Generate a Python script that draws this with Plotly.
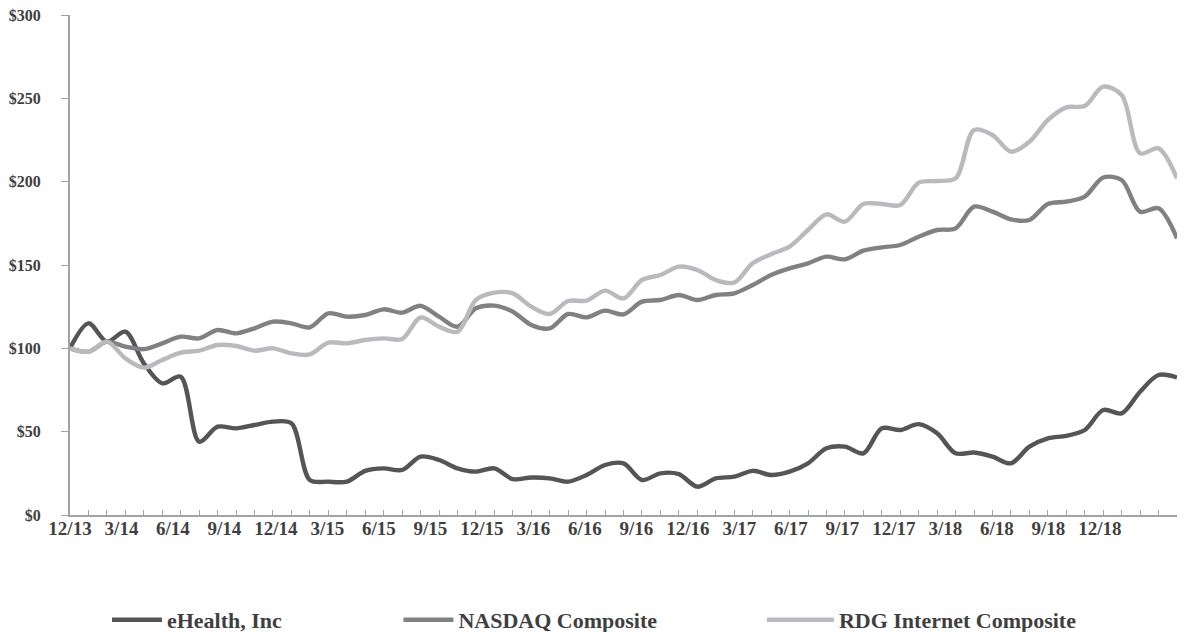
import plotly.graph_objects as go

# Monthly categories 12/13 .. 12/18
months = ["12/13"] + [f"{m}/{y}" for y in range(14, 19) for m in range(1, 13)]

quarter_labels = ["12/13", "3/14", "6/14", "9/14", "12/14", "3/15", "6/15", "9/15",
                  "12/15", "3/16", "6/16", "9/16", "12/16", "3/17", "6/17", "9/17",
                  "12/17", "3/18", "6/18", "9/18", "12/18"]

y_ticks = [0, 50, 100, 150, 200, 250, 300]
y_tick_labels = ["$0", "$50", "$100", "$150", "$200", "$250", "$300"]

ehealth = [100, 115, 104, 110, 91, 79, 83, 44, 53, 52, 54, 56, 55, 21, 20, 20,
           26.5, 28, 27, 35, 33, 28, 26, 28, 21.5, 22.5, 22, 20, 24, 30, 31, 21,
           25, 24.5, 17, 22, 23, 26.5, 24, 26, 31, 40, 41, 37, 52, 51, 54.5, 49,
           37, 37.5, 35, 31, 41, 46, 47.5, 51, 63, 61, 74, 84, 82.5]

nasdaq = [100, 98, 104, 101, 99.5, 103, 107, 106, 111, 109, 112, 116, 115, 112.6,
          121, 119, 120, 123.4, 121.4, 125.5, 119, 113, 124, 125.6, 122, 114, 112,
          120.6, 118.6, 122.6, 120.4, 128, 129, 132, 129, 132, 133, 138, 144, 148,
          151, 155, 153.4, 158.6, 160.6, 162, 167, 171, 172, 185, 182, 177.4, 177,
          186.6, 188, 191, 202.5, 201, 182, 184, 166]

rdg = [100, 98, 104, 94, 88.4, 93, 97.4, 98.6, 102, 101.4, 98.6, 100, 97, 96.4,
       103.4, 103, 105, 106, 105.6, 118.5, 113, 110, 129, 133.4, 133, 125, 120.6,
       128.4, 128.6, 134.6, 130, 141, 144, 149, 147, 141, 139.4, 151, 156.5, 161,
       171, 180.4, 176, 186.6, 186.6, 186, 199.4, 200.4, 202, 231, 228, 218, 224,
       237, 244.6, 245.4, 257, 252, 217, 220, 202]

series_names = ["eHealth, Inc", "NASDAQ Composite", "RDG Internet Composite"]
series_vals = [ehealth, nasdaq, rdg]
colors = ["#555557", "#818184", "#b9babd"]
legend_ids = ["legend", "legend2", "legend3"]

FONT = "Liberation Serif"
TXT = "#3f3f3f"
AX = "#a3a3a6"

fig = go.Figure()
for name, vals, c, lg in zip(series_names, series_vals, colors, legend_ids):
    fig.add_trace(go.Scatter(
        x=months, y=vals, name=name, mode="lines",
        line=dict(color=c, width=4.4, shape="spline", smoothing=0.9),
        legend=lg, hoverinfo="skip",
    ))

# invisible trace that carries the quarterly label axis
fig.add_trace(go.Scatter(x=list(range(len(quarter_labels))), y=[None] * len(quarter_labels),
                         xaxis="x2", yaxis="y", showlegend=False, hoverinfo="skip",
                         mode="lines"))

legend_common = dict(orientation="h", yanchor="middle", xanchor="left",
                     font=dict(family=FONT, size=22, color=TXT, weight="bold"),
                     bgcolor="rgba(0,0,0,0)", borderwidth=0)

fig.update_layout(
    width=1181, height=624,
    margin=dict(l=62, r=12, t=7, b=117, autoexpand=False),
    paper_bgcolor="white", plot_bgcolor="white",
    font=dict(family=FONT, color=TXT, weight="bold"),
    xaxis=dict(type="category", range=[0, len(months) - 1], showticklabels=False,
               ticks="inside", ticklen=5, tickcolor=AX, tickwidth=1,
               showline=True, linecolor=AX, linewidth=2, showgrid=False,
               zeroline=False, fixedrange=True),
    xaxis2=dict(overlaying="x", anchor="y", side="bottom",
                range=[0, 21.5], tickmode="array",
                tickvals=list(range(len(quarter_labels))), ticktext=quarter_labels,
                ticks="", showline=False, showgrid=False, zeroline=False,
                ticklabeloverflow="allow",
                tickfont=dict(family=FONT, size=19, color=TXT, weight="bold")),
    yaxis=dict(range=[0, 300], tickmode="array", tickvals=y_ticks, ticktext=y_tick_labels,
               ticks="outside", ticklen=7, tickcolor=AX,
               showline=True, linecolor=AX, linewidth=2, showgrid=False,
               zeroline=False, ticklabelstandoff=17, ticklabeloverflow="allow",
               tickfont=dict(family=FONT, size=16, color=TXT, weight="bold")),
    legend=dict(x=0.0334, y=-0.21, itemwidth=50, **legend_common),
    legend2=dict(x=0.2967, y=-0.21, itemwidth=50, **legend_common),
    legend3=dict(x=0.625, y=-0.21, itemwidth=67, **legend_common),
)

fig.write_html("out.html")
